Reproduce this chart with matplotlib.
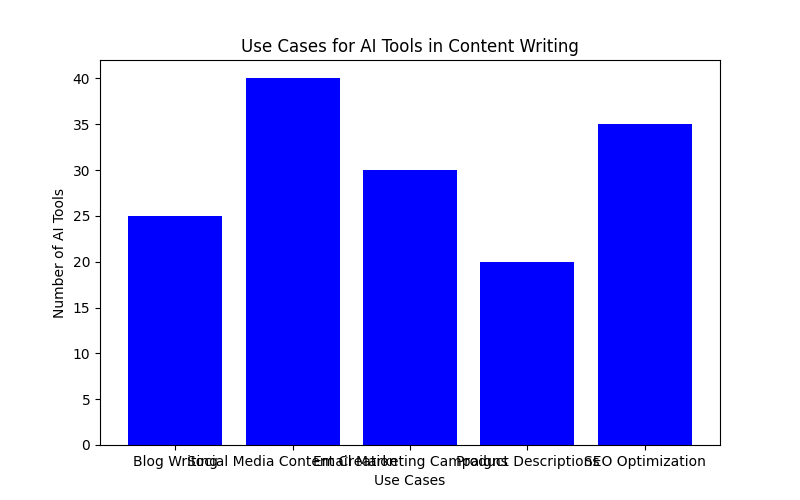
import matplotlib
matplotlib.use("Agg")
import matplotlib.pyplot as plt

# Data
use_cases = ["Blog Writing", "Social Media Content Creation", "Email Marketing Campaigns",
             "Product Descriptions", "SEO Optimization"]
tool_counts = [25, 40, 30, 20, 35]

fig, ax = plt.subplots(figsize=(8, 5), dpi=100)

ax.bar(use_cases, tool_counts, color='blue')

ax.set_title("Use Cases for AI Tools in Content Writing")
ax.set_xlabel("Use Cases")
ax.set_ylabel("Number of AI Tools")

fig.savefig("out.png")
